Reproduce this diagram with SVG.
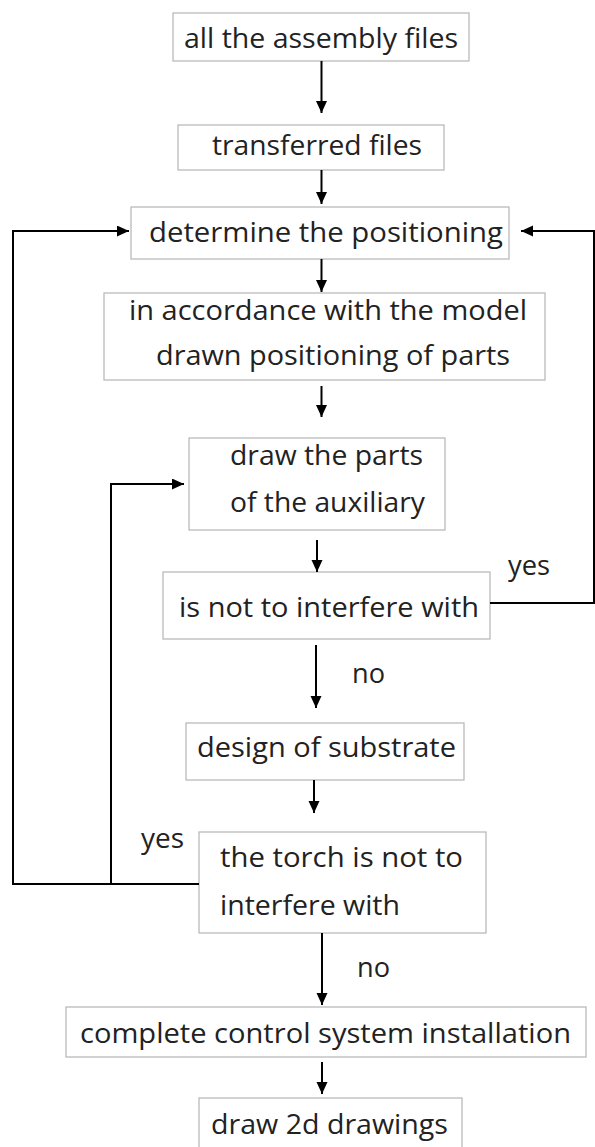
<svg xmlns="http://www.w3.org/2000/svg" width="595" height="1147" viewBox="0 0 595 1147">
<style>
.box{fill:#fff;stroke:#b5b5b5;stroke-width:1.2}
.t{font-family:"Open Sans","Noto Sans",sans-serif;font-size:28px;fill:#222}
.c{fill:none;stroke:#000;stroke-width:2}
</style>
<defs>
<marker id="ah" markerUnits="userSpaceOnUse" markerWidth="13" markerHeight="12" refX="12" refY="5.5" orient="auto">
<path d="M0,0 L12,5.5 L0,11 z" fill="#000"/>
</marker>
</defs>
<rect width="595" height="1147" fill="#fff"/>
<g id="n1"><rect class="box" x="173" y="13" width="296" height="48"/><text class="t" x="184" y="48" textLength="274" lengthAdjust="spacingAndGlyphs">all the assembly files</text></g>
<g id="n2"><rect class="box" x="178" y="125" width="266" height="45"/><text class="t" x="212" y="155" textLength="210" lengthAdjust="spacingAndGlyphs">transferred files</text></g>
<g id="n3"><rect class="box" x="131" y="207" width="378" height="52"/><text class="t" x="149" y="242" textLength="354" lengthAdjust="spacingAndGlyphs">determine the positioning</text></g>
<g id="n4"><rect class="box" x="104" y="293" width="441" height="87"/><text class="t" x="129" y="320" textLength="398" lengthAdjust="spacingAndGlyphs">in accordance with the model</text><text class="t" x="156" y="365" textLength="354" lengthAdjust="spacingAndGlyphs">drawn positioning of parts</text></g>
<g id="n5"><rect class="box" x="189" y="438" width="256" height="92"/><text class="t" x="230" y="465" textLength="193" lengthAdjust="spacingAndGlyphs">draw the parts</text><text class="t" x="230" y="512" textLength="195" lengthAdjust="spacingAndGlyphs">of the auxiliary</text></g>
<g id="n6"><rect class="box" x="163" y="572" width="327" height="67"/><text class="t" x="179" y="617" textLength="300" lengthAdjust="spacingAndGlyphs">is not to interfere with</text></g>
<g id="n7"><rect class="box" x="186" y="723" width="278" height="57"/><text class="t" x="197" y="757" textLength="259" lengthAdjust="spacingAndGlyphs">design of substrate</text></g>
<g id="n8"><rect class="box" x="199" y="832" width="287" height="101"/><text class="t" x="220" y="867" textLength="243" lengthAdjust="spacingAndGlyphs">the torch is not to</text><text class="t" x="220" y="915" textLength="180" lengthAdjust="spacingAndGlyphs">interfere with</text></g>
<g id="n9"><rect class="box" x="66" y="1007" width="520" height="50"/><text class="t" x="80" y="1043" textLength="491" lengthAdjust="spacingAndGlyphs">complete control system installation</text></g>
<g id="n10"><rect class="box" x="199" y="1098" width="263" height="60"/><text class="t" x="211" y="1134" textLength="237" lengthAdjust="spacingAndGlyphs">draw 2d drawings</text></g>
<g id="connectors">
<line class="c" x1="321.5" y1="61" x2="321.5" y2="113" marker-end="url(#ah)"/>
<line class="c" x1="321.5" y1="170" x2="321.5" y2="204" marker-end="url(#ah)"/>
<line class="c" x1="321.5" y1="259" x2="321.5" y2="292" marker-end="url(#ah)"/>
<line class="c" x1="321.5" y1="386" x2="321.5" y2="417" marker-end="url(#ah)"/>
<line class="c" x1="317" y1="540" x2="317" y2="572" marker-end="url(#ah)"/>
<line class="c" x1="316" y1="645" x2="316" y2="708" marker-end="url(#ah)"/>
<line class="c" x1="314" y1="780" x2="314" y2="813" marker-end="url(#ah)"/>
<line class="c" x1="322" y1="933" x2="322" y2="1005" marker-end="url(#ah)"/>
<line class="c" x1="322" y1="1062" x2="322" y2="1094" marker-end="url(#ah)"/>
<polyline class="c" points="199,884 13,884 13,231 129,231" marker-end="url(#ah)"/>
<polyline class="c" points="111,884 111,484 184,484" marker-end="url(#ah)"/>
<polyline class="c" points="490,603 594,603 594,231 521,231" marker-end="url(#ah)"/>
<text class="t" x="508" y="575" textLength="42" lengthAdjust="spacingAndGlyphs">yes</text>
<text class="t" x="352" y="683" textLength="33" lengthAdjust="spacingAndGlyphs">no</text>
<text class="t" x="141" y="848" textLength="43" lengthAdjust="spacingAndGlyphs">yes</text>
<text class="t" x="357" y="977" textLength="33" lengthAdjust="spacingAndGlyphs">no</text>
</g>
</svg>
